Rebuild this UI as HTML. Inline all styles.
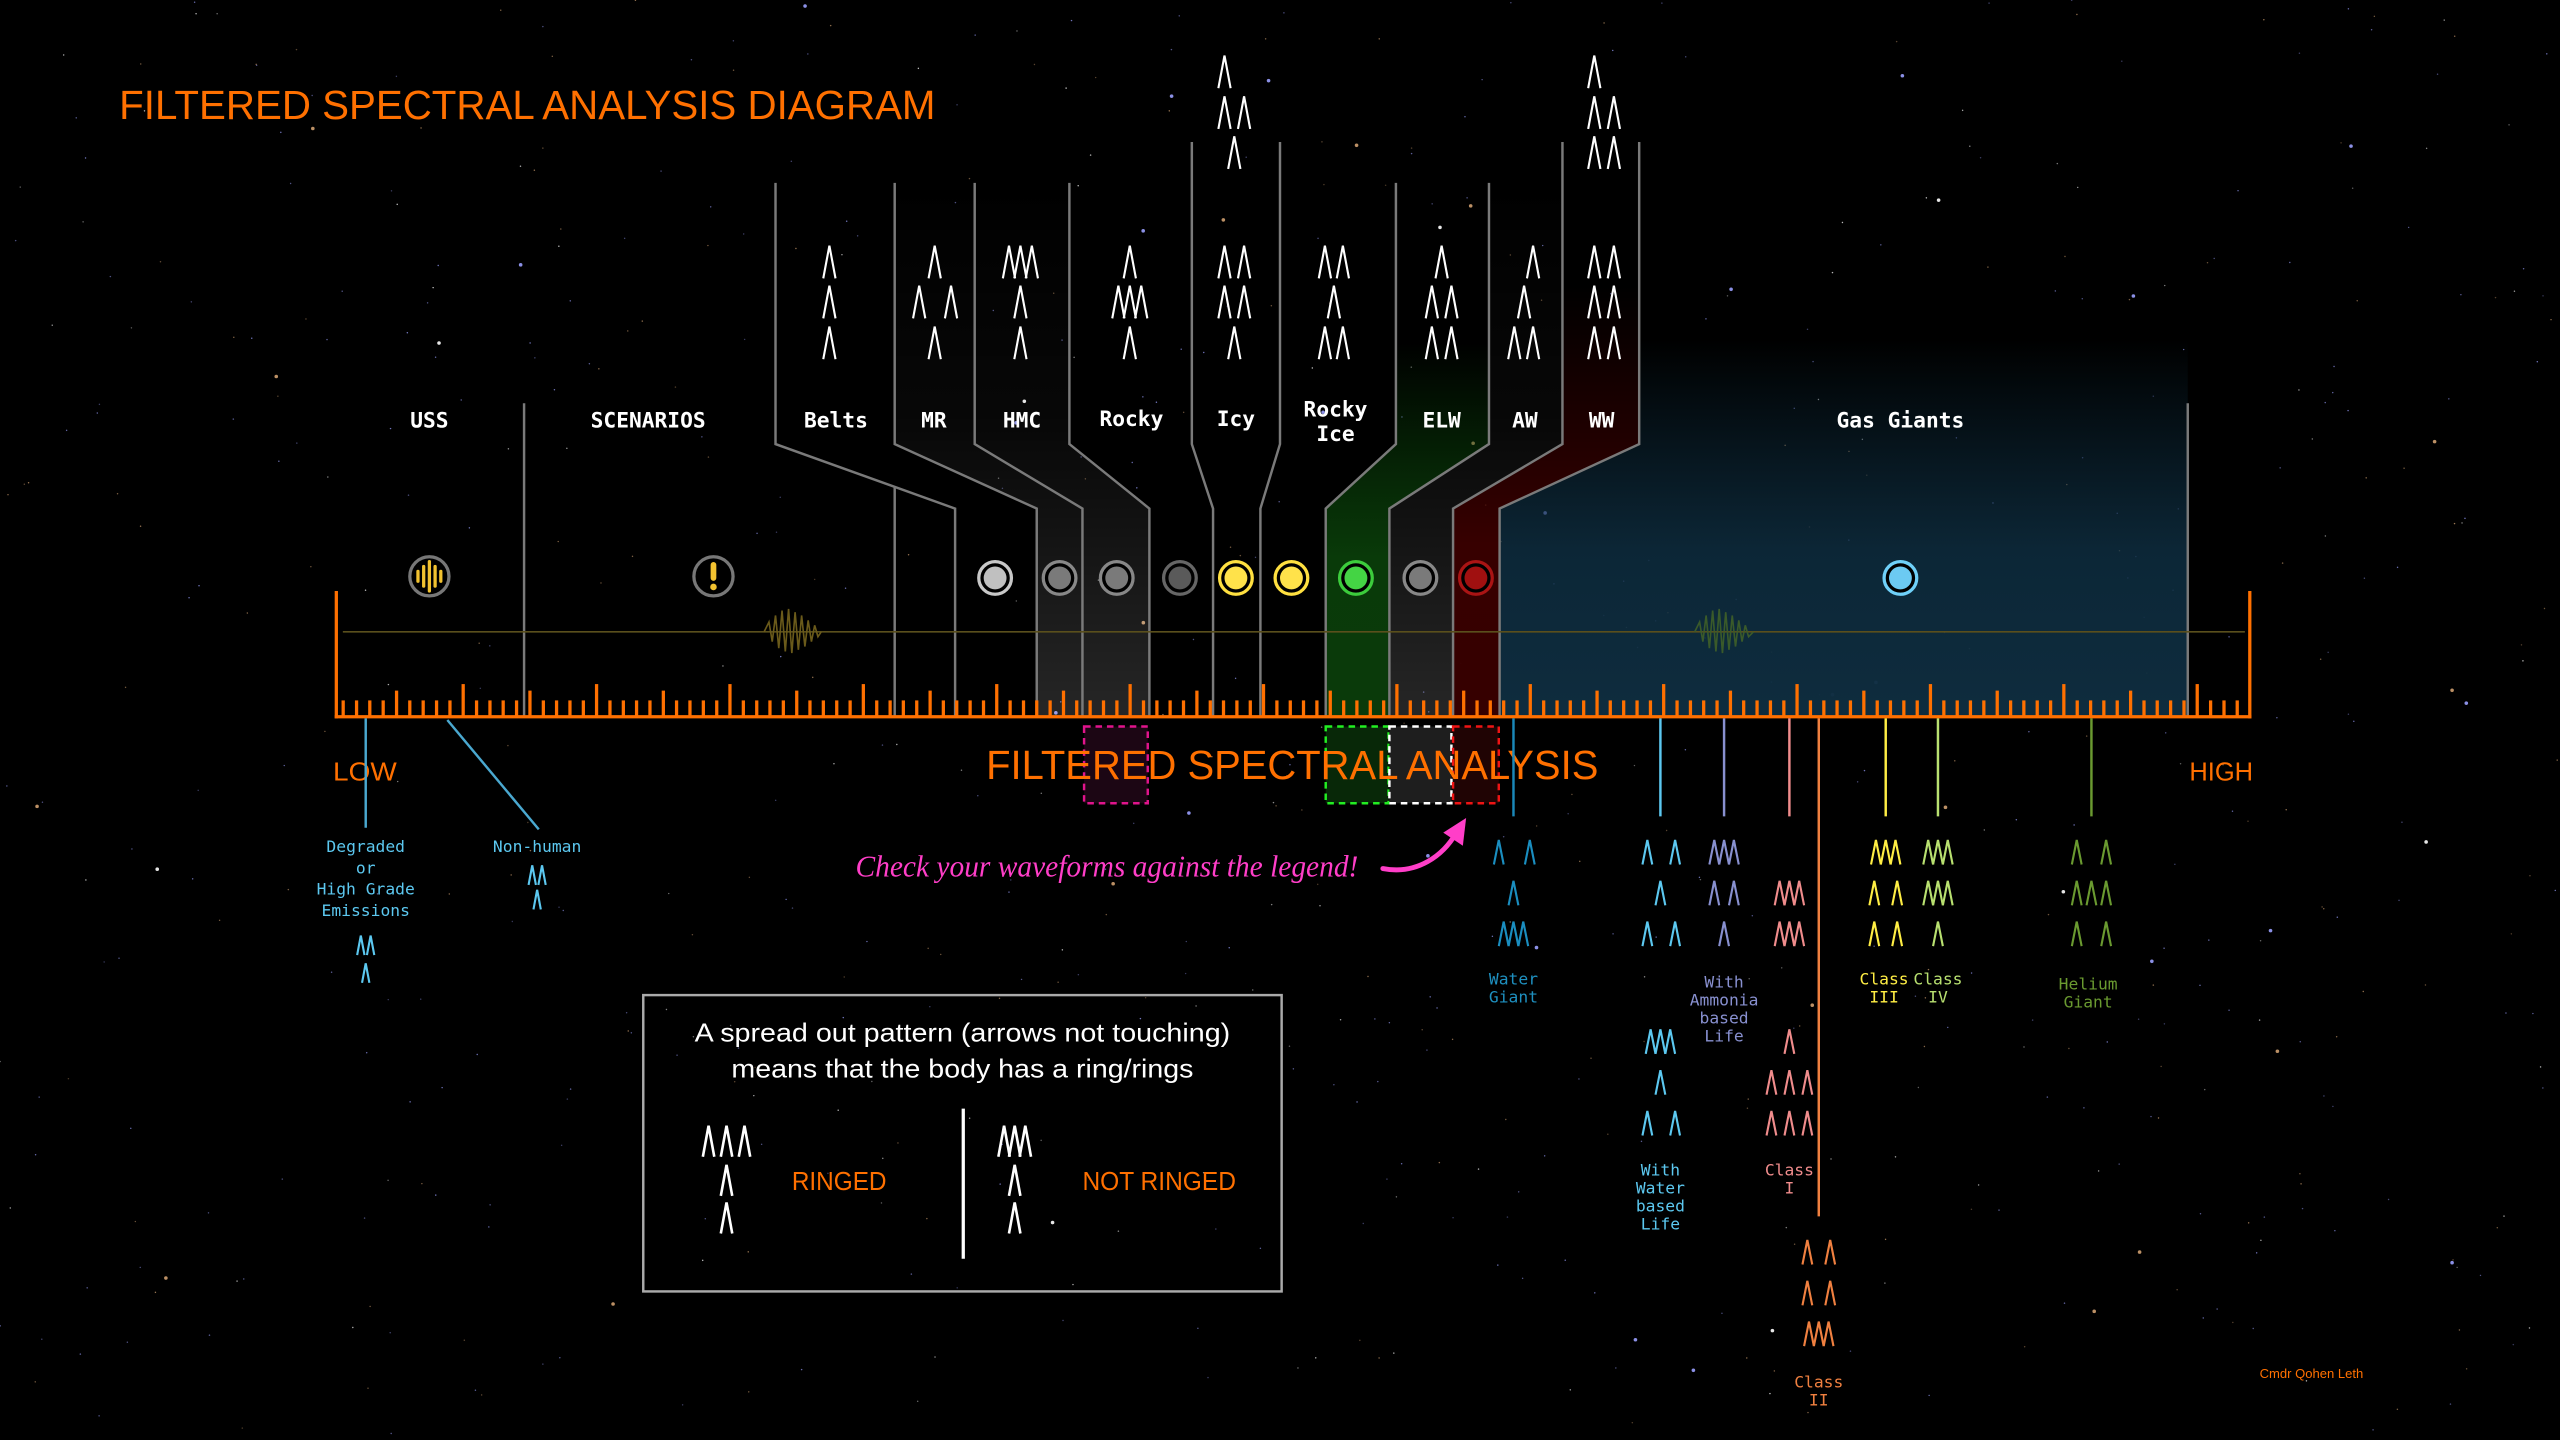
<!DOCTYPE html>
<html><head><meta charset="utf-8">
<style>
html,body{margin:0;padding:0;background:#000;}
svg{display:block;}
.lbl{font-family:"DejaVu Sans Mono","Liberation Mono",monospace;fill:#fff;font-size:13px;text-anchor:middle;font-weight:bold;}
.sm{font-family:"DejaVu Sans Mono","Liberation Mono",monospace;font-size:10px;text-anchor:middle;}
.eu{font-family:"Liberation Sans",sans-serif;}
</style></head>
<body>
<svg id="s" width="2560" height="1440" viewBox="0 0 1568 882" xmlns="http://www.w3.org/2000/svg">
<defs>
<linearGradient id="gGray" gradientUnits="userSpaceOnUse" x1="0" y1="112" x2="0" y2="439"><stop offset="0" stop-color="#fff" stop-opacity="0.0"/><stop offset="0.45" stop-color="#fff" stop-opacity="0.03"/><stop offset="1" stop-color="#fff" stop-opacity="0.15"/></linearGradient>
<linearGradient id="gGreen" gradientUnits="userSpaceOnUse" x1="0" y1="112" x2="0" y2="439"><stop offset="0.3" stop-color="#0a4a0a" stop-opacity="0"/><stop offset="0.7" stop-color="#0a400a" stop-opacity="0.9"/><stop offset="1" stop-color="#0a3a0a" stop-opacity="1"/></linearGradient>
<linearGradient id="gRed" gradientUnits="userSpaceOnUse" x1="0" y1="87" x2="0" y2="439"><stop offset="0.25" stop-color="#3a0000" stop-opacity="0"/><stop offset="0.7" stop-color="#3a0000" stop-opacity="0.95"/><stop offset="1" stop-color="#360000" stop-opacity="1"/></linearGradient>
<linearGradient id="gBlue" gradientUnits="userSpaceOnUse" x1="0" y1="150" x2="0" y2="439"><stop offset="0.2" stop-color="#0f3448" stop-opacity="0"/><stop offset="0.65" stop-color="#0f3044" stop-opacity="0.8"/><stop offset="1" stop-color="#0e2c3e" stop-opacity="1"/></linearGradient>
</defs>
<rect width="1568" height="882" fill="#000"/>
<g id="stars"></g>

<polygon fill="url(#gGray)" points="548,112 548,272 635,311.5 635,439 663,439 663,311.5 597,272 597,112"/>
<polygon fill="url(#gGray)" points="597,112 597,272 663,311.5 663,439 704,439 704,311.5 655,272 655,112"/>
<polygon fill="url(#gGreen)" points="855,112 855,272 812,311.5 812,439 851,439 851,311.5 912,272 912,112"/>
<polygon fill="url(#gGray)" points="912,112 912,272 851,311.5 851,439 890,439 890,311.5 957,272 957,87"/>
<polygon fill="url(#gRed)" points="957,87 957,272 890,311.5 890,439 918.5,439 918.5,311.5 1004,272 1004,87"/>
<polygon fill="url(#gBlue)" points="1004,150 1004,272 918.5,311.5 918.5,439 1340,439 1340,150"/>

<g fill="none" stroke="#7a7a7a" stroke-width="1.5">
<polyline points="475,112 475,272 585,311.5 585,439"/>
<line x1="548" y1="298" x2="548" y2="439"/>
<polyline points="548,112 548,272 635,311.5 635,439"/>
<polyline points="597,112 597,272 663,311.5 663,439"/>
<polyline points="655,112 655,272 704,311.5 704,439"/>
<polyline points="730,87 730,272 743,311.5 743,439"/>
<polyline points="784,87 784,272 772,311.5 772,439"/>
<polyline points="855,112 855,272 812,311.5 812,439"/>
<polyline points="912,112 912,272 851,311.5 851,439"/>
<polyline points="957,87 957,272 890,311.5 890,439"/>
<polyline points="1004,87 1004,272 918.5,311.5 918.5,439"/>
<line x1="321" y1="247" x2="321" y2="439"/>
<line x1="1340" y1="247" x2="1340" y2="439"/>
</g>

<line x1="210" y1="387" x2="1375" y2="387" stroke="#5a4f1c" stroke-width="1"/>
<polyline fill="none" stroke="#6a5a1a" stroke-width="1" points="468,387 471,381 473,393 475,377 477,397 479,374 481,399 483,373 485,400 487,375 489,398 491,377 493,396 495,380 497,393 499,383 501,390 503,387"/>
<polyline fill="none" stroke="#3a5a2a" stroke-width="1" points="1038,387 1041,381 1043,393 1045,377 1047,397 1049,374 1051,399 1053,373 1055,400 1057,375 1059,398 1061,377 1063,396 1065,380 1067,393 1069,383 1071,390 1074,387"/>

<text class="lbl" x="263" y="262">USS</text>
<text class="lbl" x="397" y="262">SCENARIOS</text>
<text class="lbl" x="512" y="262">Belts</text>
<text class="lbl" x="572" y="262">MR</text>
<text class="lbl" x="626" y="262">HMC</text>
<text class="lbl" x="693" y="261">Rocky</text>
<text class="lbl" x="757" y="261">Icy</text>
<text class="lbl" x="818" y="255">Rocky</text>
<text class="lbl" x="818" y="270">Ice</text>
<text class="lbl" x="883" y="262">ELW</text>
<text class="lbl" x="934" y="262">AW</text>
<text class="lbl" x="981" y="262">WW</text>
<text class="lbl" x="1164" y="262">Gas Giants</text>

<g stroke-width="2">
<circle cx="263" cy="353" r="12" fill="#000" stroke="#777"/>
<g stroke="#f2c230" stroke-width="2" stroke-linecap="round"><line x1="256" y1="350" x2="256" y2="356"/><line x1="259.5" y1="347" x2="259.5" y2="359"/><line x1="263" y1="344" x2="263" y2="362"/><line x1="266.5" y1="347" x2="266.5" y2="359"/><line x1="270" y1="350" x2="270" y2="356"/></g>
<circle cx="437" cy="353" r="12" fill="#000" stroke="#777"/>
<line x1="437" y1="346" x2="437" y2="354" stroke="#f2c230" stroke-width="3.5" stroke-linecap="round"/>
<circle cx="437" cy="359.5" r="2" fill="#f2c230" stroke="none"/>
<circle cx="609.5" cy="354" r="10" fill="#000" stroke="#c8c8c8"/><circle cx="609.5" cy="354" r="7" fill="#c0c0c0" stroke="none"/>
<circle cx="649" cy="354" r="10" fill="#000" stroke="#888"/><circle cx="649" cy="354" r="7" fill="#7a7a7a" stroke="none"/>
<circle cx="684" cy="354" r="10" fill="#000" stroke="#888"/><circle cx="684" cy="354" r="7" fill="#7a7a7a" stroke="none"/>
<circle cx="722.7" cy="354" r="10" fill="#000" stroke="#666"/><circle cx="722.7" cy="354" r="7" fill="#5a5a5a" stroke="none"/>
<circle cx="757" cy="354" r="10" fill="#000" stroke="#ffe040"/><circle cx="757" cy="354" r="7" fill="#ffe24a" stroke="none"/>
<circle cx="791" cy="354" r="10" fill="#000" stroke="#ffe040"/><circle cx="791" cy="354" r="7" fill="#ffe24a" stroke="none"/>
<circle cx="830.5" cy="354" r="10" fill="#000" stroke="#3ccc3c"/><circle cx="830.5" cy="354" r="7" fill="#44d444" stroke="none"/>
<circle cx="870" cy="354" r="10" fill="#000" stroke="#888"/><circle cx="870" cy="354" r="7" fill="#7a7a7a" stroke="none"/>
<circle cx="904" cy="354" r="10" fill="#000" stroke="#aa1414"/><circle cx="904" cy="354" r="7" fill="#a01010" stroke="none"/>
<circle cx="1164" cy="354" r="10" fill="#000" stroke="#6fd0f8"/><circle cx="1164" cy="354" r="7" fill="#6ccaf2" stroke="none"/>
</g>

<g id="ticks" stroke="#ff7000" stroke-width="2"></g>
<line x1="205" y1="439" x2="1379" y2="439" stroke="#ff7000" stroke-width="2"/>
<line x1="206" y1="362" x2="206" y2="440" stroke="#ff7000" stroke-width="2"/>
<line x1="1378" y1="362" x2="1378" y2="440" stroke="#ff7000" stroke-width="2"/>

<rect x="664" y="445" width="39" height="47" fill="#1c0614" stroke="#e0148c" stroke-width="1.5" stroke-dasharray="4,3"/>
<rect x="812" y="445" width="38.5" height="47" fill="#082808" stroke="#22ee22" stroke-width="1.5" stroke-dasharray="4,3"/>
<rect x="851" y="445" width="38" height="47" fill="#1e1e1e" stroke="#fff" stroke-width="1.5" stroke-dasharray="4,3"/>
<rect x="890" y="445" width="28" height="47" fill="#200404" stroke="#ee1414" stroke-width="1.5" stroke-dasharray="4,3"/>

<text class="eu" x="604" y="477" font-size="25" fill="#ff7000" textLength="375" lengthAdjust="spacingAndGlyphs">FILTERED SPECTRAL ANALYSIS</text>
<text class="eu" x="73" y="73" font-size="25" fill="#ff7000" textLength="500" lengthAdjust="spacingAndGlyphs">FILTERED SPECTRAL ANALYSIS DIAGRAM</text>
<text class="eu" x="204" y="478" font-size="16" fill="#ff7000" textLength="39" lengthAdjust="spacingAndGlyphs">LOW</text>
<text class="eu" x="1341" y="478" font-size="16" fill="#ff7000" textLength="39" lengthAdjust="spacingAndGlyphs">HIGH</text>

<text x="524" y="537" font-family="'Liberation Serif',serif" font-style="italic" font-size="19" fill="#ff3ec8" textLength="308" lengthAdjust="spacingAndGlyphs">Check your waveforms against the legend!</text>
<path d="M847,532 C868,536 884,524 892,510" fill="none" stroke="#ff3ec8" stroke-width="3" stroke-linecap="round"/>
<polygon points="898,501 884,510 896,518" fill="#ff3ec8"/>

<g stroke-width="1.5">
<line x1="224" y1="440" x2="224" y2="507" stroke="#4aa8d0"/>
<line x1="274" y1="441" x2="330" y2="508" stroke="#4aa8d0"/>
<line x1="927" y1="440" x2="927" y2="500" stroke="#1a88b8"/>
<line x1="1017" y1="440" x2="1017" y2="500" stroke="#5cc8f0"/>
<line x1="1056" y1="440" x2="1056" y2="500" stroke="#8890d0"/>
<line x1="1096" y1="440" x2="1096" y2="500" stroke="#f08c8c"/>
<line x1="1114" y1="440" x2="1114" y2="745" stroke="#f08040"/>
<line x1="1155" y1="440" x2="1155" y2="500" stroke="#ffee44"/>
<line x1="1187" y1="440" x2="1187" y2="500" stroke="#b8e070"/>
<line x1="1281" y1="440" x2="1281" y2="500" stroke="#6a9a30"/>
</g>

<text class="sm" x="224" y="522" font-size="11.5" fill="#5cc8f0">Degraded</text>
<text class="sm" x="224" y="535" font-size="11.5" fill="#5cc8f0">or</text>
<text class="sm" x="224" y="548" font-size="11.5" fill="#5cc8f0">High Grade</text>
<text class="sm" x="224" y="561" font-size="11.5" fill="#5cc8f0">Emissions</text>
<text class="sm" x="329" y="522" font-size="11.5" fill="#5cc8f0">Non-human</text>
<g>
<text class="sm" x="927" y="603" fill="#1e90c0">Water</text><text class="sm" x="927" y="614" fill="#1e90c0">Giant</text>
<text class="sm" x="1017" y="720" fill="#5cc8f0">With</text><text class="sm" x="1017" y="731" fill="#5cc8f0">Water</text><text class="sm" x="1017" y="742" fill="#5cc8f0">based</text><text class="sm" x="1017" y="753" fill="#5cc8f0">Life</text>
<text class="sm" x="1056" y="605" fill="#8890d0">With</text><text class="sm" x="1056" y="616" fill="#8890d0">Ammonia</text><text class="sm" x="1056" y="627" fill="#8890d0">based</text><text class="sm" x="1056" y="638" fill="#8890d0">Life</text>
<text class="sm" x="1096" y="720" fill="#f08c8c">Class</text><text class="sm" x="1096" y="731" fill="#f08c8c">I</text>
<text class="sm" x="1114" y="850" fill="#f08040">Class</text><text class="sm" x="1114" y="861" fill="#f08040">II</text>
<text class="sm" x="1154" y="603" fill="#ffee44">Class</text><text class="sm" x="1154" y="614" fill="#ffee44">III</text>
<text class="sm" x="1187" y="603" fill="#b8e070">Class</text><text class="sm" x="1187" y="614" fill="#b8e070">IV</text>
<text class="sm" x="1279" y="606" fill="#6a9a30">Helium</text><text class="sm" x="1279" y="617" fill="#6a9a30">Giant</text>
</g>

<rect x="394" y="609.5" width="391" height="181.5" fill="none" stroke="#aaa" stroke-width="1.5"/>
<text class="eu" x="589.5" y="638" font-size="16" fill="#fff" text-anchor="middle" textLength="328" lengthAdjust="spacingAndGlyphs">A spread out pattern (arrows not touching)</text>
<text class="eu" x="589.5" y="660" font-size="16" fill="#fff" text-anchor="middle" textLength="283" lengthAdjust="spacingAndGlyphs">means that the body has a ring/rings</text>
<text class="eu" x="485" y="729" font-size="16" fill="#ff7000" textLength="58" lengthAdjust="spacingAndGlyphs">RINGED</text>
<text class="eu" x="663" y="729" font-size="16" fill="#ff7000" textLength="94" lengthAdjust="spacingAndGlyphs">NOT RINGED</text>
<line x1="590" y1="679" x2="590" y2="771" stroke="#fff" stroke-width="2"/>

<text class="eu" x="1384" y="844" font-size="8" fill="#ff7000">Cmdr Qohen Leth</text>

<g id="arrows" fill="none" stroke-linejoin="miter"></g>
</svg>
<script>
(function(){
var NS="http://www.w3.org/2000/svg";
var st=document.getElementById("stars");var seed=7;function r(){seed=(seed*16807)%2147483647;return seed/2147483647;}
for(var i=0;i<700;i++){var c=document.createElementNS(NS,"circle");c.setAttribute("cx",(r()*1568).toFixed(1));c.setAttribute("cy",(r()*882).toFixed(1));var big=r()<0.06;c.setAttribute("r",big?1.1:0.45);var t=r();c.setAttribute("fill",t<0.5?"#9aa0ff":(t<0.8?"#d0a070":"#ffffff"));c.setAttribute("opacity",(big?0.9:0.35+r()*0.4).toFixed(2));st.appendChild(c);}
var tk=document.getElementById("ticks");
for(var k=0;k<143;k++){var x=210.2+k*8.17;if(x>1372)break;var h=(k%10==9)?20:((k%5==4)?16:10);var l=document.createElementNS(NS,"line");l.setAttribute("x1",x.toFixed(1));l.setAttribute("x2",x.toFixed(1));l.setAttribute("y1",439);l.setAttribute("y2",439-h);tk.appendChild(l);}
var ag=document.getElementById("arrows");
function A(cx,cy,w,h,col,sw){var p=document.createElementNS(NS,"path");p.setAttribute("d","M"+(cx-w/2)+","+(cy+h/2)+" L"+cx+","+(cy-h/2)+" L"+(cx+w/2)+","+(cy+h/2));p.setAttribute("stroke",col);p.setAttribute("stroke-width",sw||1.3);ag.appendChild(p);}
function R(xs,cy,w,h,col,sw){xs.forEach(function(x){A(x,cy,w,h,col,sw);});}
var W="#fff",w=7.5,h=20;
var r1=160.5,r2=185,r3=210;
R([508],r1,w,h,W);R([508],r2,w,h,W);R([508],r3,w,h,W);
R([572.5],r1,w,h,W);R([563,582.5],r2,w,h,W);R([572.5],r3,w,h,W);
R([618,625,632],r1,w,h,W);R([625],r2,w,h,W);R([625],r3,w,h,W);
R([692],r1,w,h,W);R([685,692,699],r2,w,h,W);R([692],r3,w,h,W);
R([750,762],r1,w,h,W);R([750,762],r2,w,h,W);R([756],r3,w,h,W);
R([750],44,w,h,W);R([750,762],69,w,h,W);R([756],93.5,w,h,W);
R([811.5,822.5],r1,w,h,W);R([817],r2,w,h,W);R([811.5,822.5],r3,w,h,W);
R([883],r1,w,h,W);R([877,889],r2,w,h,W);R([877,889],r3,w,h,W);
R([939],r1,w,h,W);R([933.5],r2,w,h,W);R([927.5,939],r3,w,h,W);
R([976.5,988.5],r1,w,h,W);R([976.5,988.5],r2,w,h,W);R([976.5,988.5],r3,w,h,W);
R([976.5],44,w,h,W);R([976.5,988.5],69,w,h,W);R([976.5,988.5],93.5,w,h,W);
var bw=6,bh=15;
var B="#5cc8f0";
R([221,227],579,4.5,12,B);R([224],596,4.5,12,B);
R([326,332],536,4.5,12,B);R([329],551,4.5,12,B);
var WG="#1a8ec0";R([918,937],522,bw,bh,WG);R([927],547,bw,bh,WG);R([921,927,933],572,bw,bh,WG);
R([1009,1026],522,bw,bh,B);R([1017],547,bw,bh,B);R([1009,1026],572,bw,bh,B);
R([1011,1017,1023],638,bw,bh,B);R([1017],663,bw,bh,B);R([1009,1026],688,bw,bh,B);
var AM="#8890d0";R([1050,1056,1062],522,bw,bh,AM);R([1050,1062],547,bw,bh,AM);R([1056],572,bw,bh,AM);
var C1="#f08c8c";R([1090,1096,1102],547,bw,bh,C1);R([1090,1096,1102],572,bw,bh,C1);
R([1096],638,bw,bh,C1);R([1085,1096,1107],663,bw,bh,C1);R([1085,1096,1107],688,bw,bh,C1);
var C2="#f08040";R([1107,1121],767,bw,bh,C2);R([1107,1121],792,bw,bh,C2);R([1108,1114,1120],817,bw,bh,C2);
var C3="#ffee44";R([1149,1155,1161],522,bw,bh,C3);R([1148,1162],547,bw,bh,C3);R([1148,1162],572,bw,bh,C3);
var C4="#b8e070";R([1181,1187,1193],522,bw,bh,C4);R([1181,1187,1193],547,bw,bh,C4);R([1187],572,bw,bh,C4);
var HG="#6a9a30";R([1272,1290],522,bw,bh,HG);R([1272,1281,1290],547,bw,bh,HG);R([1272,1290],572,bw,bh,HG);
R([434,445,456],699,7,19,W,1.6);R([445],723,7,19,W,1.6);R([445],746,7,19,W,1.6);
R([615,621.5,628],699,7,19,W,1.6);R([621.5],723,7,19,W,1.6);R([621.5],746,7,19,W,1.6);
})();
</script>
</body></html>
